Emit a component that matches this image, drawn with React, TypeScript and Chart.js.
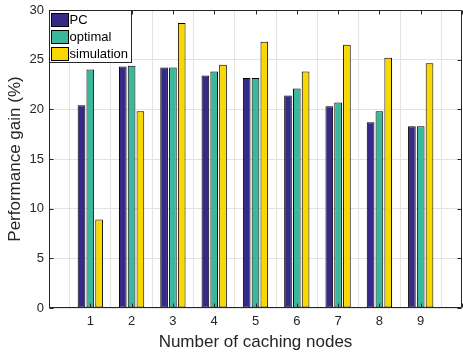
import React, { useEffect, useRef } from 'react';
import { Chart, registerables } from 'chart.js';

Chart.register(...registerables);

const categories = [1, 2, 3, 4, 5, 6, 7, 8, 9];
const pcValues = [20.4, 24.3, 24.2, 23.4, 23.15, 21.4, 20.3, 18.7, 18.3];
const optimalValues = [24.0, 24.4, 24.2, 23.8, 23.15, 22.1, 20.7, 19.8, 18.3];
const simulationValues = [8.9, 19.8, 28.7, 24.5, 26.8, 23.8, 26.5, 25.2, 24.65];
const seriesLabels = ['PC', 'optimal', 'simulation'];
const seriesColors = ['#352a87', '#3bb89c', '#f9d800'];
const xAxisTitle = 'Number of caching nodes';
const yAxisTitle = 'Performance gain (%)';

const FONT = '"Liberation Sans", Arial, Helvetica, sans-serif';
const AXIS_COLOR = '#262626';

const framePlugin = {
  id: 'matlabFrame',
  afterDatasetsDraw(chart: any) {
    const { ctx, chartArea } = chart;
    const { left, right, top, bottom } = chartArea;
    const xs = chart.scales.x;
    const ys = chart.scales.y;
    ctx.save();
    ctx.strokeStyle = AXIS_COLOR;
    ctx.lineWidth = 1;
    ctx.beginPath();
    const l = Math.round(left) + 0.5;
    const r = Math.round(right) - 0.5;
    const t = Math.round(top) + 0.5;
    const b = Math.round(bottom) - 0.5;
    ctx.rect(l, t, r - l, b - t);
    const tl = 4;
    xs.ticks.forEach((tk: any) => {
      const px = Math.round(xs.getPixelForValue(tk.value)) + 0.5;
      ctx.moveTo(px, b);
      ctx.lineTo(px, b - tl);
      ctx.moveTo(px, t);
      ctx.lineTo(px, t + tl);
    });
    ys.ticks.forEach((tk: any) => {
      const py = Math.round(ys.getPixelForValue(tk.value)) + 0.5;
      ctx.moveTo(l, py);
      ctx.lineTo(l + tl, py);
      ctx.moveTo(r, py);
      ctx.lineTo(r - tl, py);
    });
    ctx.stroke();
    ctx.restore();
  },
  afterDraw(chart: any) {
    const { ctx, chartArea } = chart;
    const bx = Math.round(chartArea.left) + 0.5;
    const by = Math.round(chartArea.top) + 0.5;
    const bw = 82;
    const bh = 52;
    ctx.save();
    ctx.fillStyle = '#ffffff';
    ctx.fillRect(bx, by, bw, bh);
    ctx.strokeStyle = AXIS_COLOR;
    ctx.lineWidth = 1;
    ctx.strokeRect(bx, by, bw, bh);
    ctx.font = `13px ${FONT}`;
    ctx.textBaseline = 'middle';
    ctx.textAlign = 'left';
    chart.data.datasets.forEach((ds: any, i: number) => {
      const sy = by + 3 + i * 17;
      ctx.fillStyle = ds.backgroundColor;
      ctx.fillRect(bx + 2, sy, 17, 13);
      ctx.strokeStyle = '#000000';
      ctx.strokeRect(bx + 2, sy, 17, 13);
      ctx.fillStyle = '#000000';
      ctx.fillText(ds.label, bx + 20, sy + 7);
    });
    ctx.restore();
  },
};

export default function App() {
  const canvasRef = useRef<HTMLCanvasElement | null>(null);

  useEffect(() => {
    if (!canvasRef.current) return;
    const seriesValues = [pcValues, optimalValues, simulationValues];
    const chart = new Chart(canvasRef.current, {
      type: 'bar',
      data: {
        datasets: seriesValues.map((vals, si) => ({
          label: seriesLabels[si],
          data: categories.map((c, i) => ({ x: c, y: vals[i] })),
          backgroundColor: seriesColors[si],
          borderColor: '#000000',
          borderWidth: 1,
          borderSkipped: false,
          categoryPercentage: 0.64,
          barPercentage: 0.87,
        })),
      },
      options: {
        responsive: false,
        animation: false,
        devicePixelRatio: 1,
        layout: { padding: { top: 10, right: 1, left: 0, bottom: 0 } },
        plugins: {
          legend: { display: false },
          tooltip: { enabled: false },
        },
        scales: {
          x: {
            type: 'linear',
            min: 0,
            max: 10,
            offset: false,
            afterFit: (s: any) => {
              s.height = 45;
              s.paddingLeft = 0;
              s.paddingRight = 0;
            },
            ticks: {
              stepSize: 1,
              autoSkip: false,
              maxRotation: 0,
              padding: 6,
              color: AXIS_COLOR,
              font: { family: FONT, size: 13 },
              callback: (v: any) => (categories.includes(Number(v)) ? String(v) : ''),
            },
            grid: { color: '#e3e3e3', drawTicks: false, lineWidth: 1 },
            border: { display: false },
            title: {
              display: true,
              text: xAxisTitle,
              color: AXIS_COLOR,
              font: { family: FONT, size: 17 },
              padding: { top: 0, bottom: 0 },
            },
          },
          y: {
            min: 0,
            max: 30,
            afterFit: (s: any) => {
              s.width = 49;
              s.paddingTop = 0;
              s.paddingBottom = 0;
            },
            ticks: {
              stepSize: 5,
              padding: 5,
              color: AXIS_COLOR,
              font: { family: FONT, size: 13 },
            },
            grid: { color: '#e3e3e3', drawTicks: false, lineWidth: 1 },
            border: { display: false },
            title: {
              display: true,
              text: yAxisTitle,
              color: AXIS_COLOR,
              font: { family: FONT, size: 17 },
              padding: { top: 5, bottom: 0 },
            },
          },
        },
      },
      plugins: [framePlugin],
    });
    return () => chart.destroy();
  }, []);

  return (
    <div style={{ position: 'absolute', left: 0, top: 0, width: 463, height: 353, background: '#ffffff' }}>
      <canvas ref={canvasRef} width={463} height={353} style={{ width: 463, height: 353 }} />
    </div>
  );
}
